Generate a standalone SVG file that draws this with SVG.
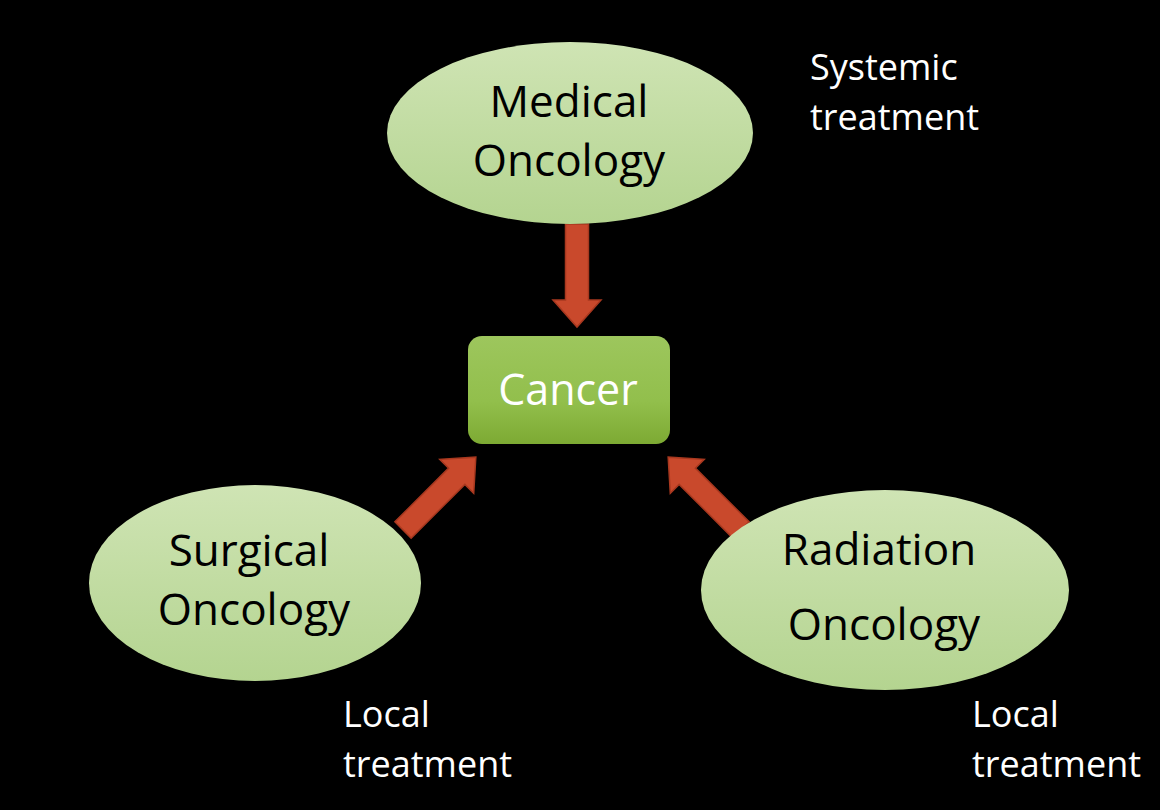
<svg xmlns="http://www.w3.org/2000/svg" width="1160" height="810" viewBox="0 0 1160 810">
<defs>
<linearGradient id="eg" x1="0" y1="0" x2="0" y2="1"><stop offset="0" stop-color="#cfe4b4"/><stop offset="1" stop-color="#b4d490"/></linearGradient>
<linearGradient id="rg" x1="0" y1="0" x2="0" y2="1"><stop offset="0" stop-color="#9dc65d"/><stop offset="0.6" stop-color="#92bf4c"/><stop offset="1" stop-color="#7daa33"/></linearGradient>
<path id="arr" d="M0,-11.5 L76,-11.5 L76,-24 L103,0 L76,24 L76,11.5 L0,11.5 Z"/>
</defs>
<style>
.ell{fill:url(#eg);}
.t{font-family:"Open Sans","Liberation Sans",sans-serif;font-size:44px;fill:#000;text-anchor:middle;}
.c{font-family:"Open Sans","Liberation Sans",sans-serif;font-size:43px;fill:#fff;text-anchor:middle;}
.w{font-family:"Open Sans","Liberation Sans",sans-serif;font-size:36px;fill:#fff;}
.a{fill:#c9492c;stroke:#a8381f;stroke-width:1.5;}
</style>
<rect width="1160" height="810" fill="#000"/>
<g id="connectors">
<use href="#arr" class="a" transform="translate(577,224) rotate(90)"/>
<use href="#arr" class="a" transform="translate(403,530) rotate(-45)"/>
<use href="#arr" class="a" transform="translate(741,530) rotate(-135)"/>
</g>
<g id="medical">
<ellipse class="ell" cx="570" cy="133" rx="183" ry="91"/>
<text class="t" x="569" y="117">Medical</text>
<text class="t" x="569" y="176">Oncology</text>
</g>
<g id="cancer">
<rect x="468" y="336" width="202" height="108" rx="14" fill="url(#rg)"/>
<text class="c" x="568" y="405">Cancer</text>
</g>
<g id="surgical">
<ellipse class="ell" cx="255" cy="583" rx="166" ry="98"/>
<text class="t" x="249" y="566">Surgical</text>
<text class="t" x="254" y="625">Oncology</text>
</g>
<g id="radiation">
<ellipse class="ell" cx="885" cy="590" rx="184" ry="100"/>
<text class="t" x="879" y="565">Radiation</text>
<text class="t" x="884" y="640">Oncology</text>
</g>
<g id="labels">
<text class="w" x="810" y="80">Systemic</text>
<text class="w" x="810" y="130">treatment</text>
<text class="w" x="343" y="727">Local</text>
<text class="w" x="343" y="777">treatment</text>
<text class="w" x="972" y="727">Local</text>
<text class="w" x="972" y="777">treatment</text>
</g>
</svg>
